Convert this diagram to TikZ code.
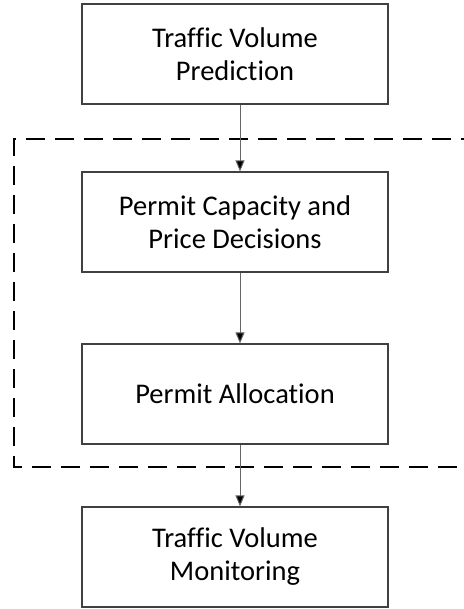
\documentclass[tikz,border=0pt]{standalone}
\usepackage{fontspec}
\setmainfont{Carlito}[Ligatures={NoCommon}]
\usetikzlibrary{arrows.meta}
\begin{document}
\begin{tikzpicture}[x=1pt,y=-1pt,
  stagebox/.style={draw=black!75, line width=1.1pt, minimum width=306pt, minimum height=100pt,
    align=center, inner sep=0pt,
    font=\fontsize{28.5}{33}\selectfont},
  flow/.style={draw=black!60, line width=1pt, -{Triangle[length=11pt,width=9pt,fill=black]}},
  frame/.style={draw=black, line width=2pt, dash pattern=on 19pt off 10pt}]
\useasboundingbox (0,0) rectangle (463,609);
% dashed frame around the decision stages (open on the right)
\draw[frame] (480,139) -- (14,139) -- (14,467) -- (480,467);
% stages
\node[stagebox] (pred) at (235,54) {Traffic Volume\\Prediction};
\node[stagebox] (cap)  at (235,222) {Permit Capacity and\\Price Decisions};
\node[stagebox] (alloc) at (235,394) {Permit Allocation};
\node[stagebox] (mon)  at (235,557) {Traffic Volume\\Monitoring};
% flow between stages
\draw[flow] ([xshift=5pt]pred.south) -- ([xshift=5pt]cap.north);
\draw[flow] ([xshift=5pt]cap.south) -- ([xshift=5pt]alloc.north);
\draw[flow] ([xshift=5pt]alloc.south) -- ([xshift=5pt]mon.north);
\end{tikzpicture}
\end{document}
